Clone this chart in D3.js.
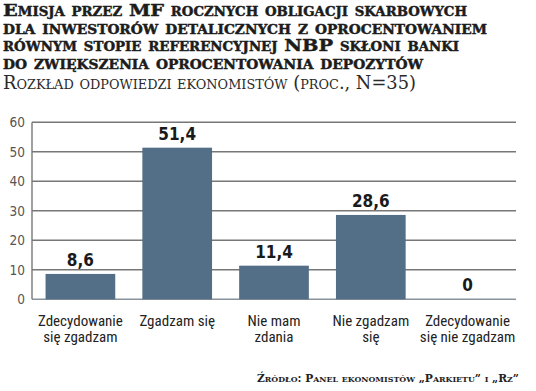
<!DOCTYPE html>
<html>
<head>
<meta charset="utf-8">
<script src="https://cdn.jsdelivr.net/npm/d3@7"></script>
<style>
  body { margin: 0; background: #fff; }
  svg { display: block; }
</style>
</head>
<body>
<div class="elementForBarGraph"></div>
<script>

var titleLines = [
	"Emisja przez MF rocznych obligacji skarbowych",
	"dla inwestorów detalicznych z oprocentowaniem",
	"równym stopie referencyjnej NBP skłoni banki",
	"do zwiększenia oprocentowania depozytów"
];
var subtitle = "Rozkład odpowiedzi ekonomistów (proc., N=35)";
var source = "Źródło: Panel ekonomistów „Parkietu” i „Rz”";

var categories = [
	["Zdecydowanie", "się zgadzam"],
	["Zgadzam się"],
	["Nie mam", "zdania"],
	["Nie zgadzam", "się"],
	["Zdecydowanie", "się nie zgadzam"]
];
var values = [8.6, 51.4, 11.4, 28.6, 0];
var yTicks = [0, 10, 20, 30, 40, 50, 60];

var width = 536, height = 391;
var plot = {left: 32, right: 516, top: 122.3, bottom: 299.3};

var pl = d3.formatLocale({decimal: ",", thousands: " ", grouping: [3], currency: ["", " zł"]});
var fmt = pl.format(".1~f");

var svg = d3.select(".elementForBarGraph")
	.append("svg")
	.attr("width", width)
	.attr("height", height);

// title block
var serif = "'DejaVu Serif', serif";
var titleEnds = [467, 487, 459, 423];
var titleBase = [16, 33.5, 51, 68.5];

svg.selectAll("text.title")
	.data(titleLines)
	.enter()
	.append("text")
		.attr("class", "title")
		.attr("x", 3)
		.attr("y", function(d,i){ return titleBase[i]; })
		.attr("textLength", function(d,i){ return titleEnds[i] - 3; })
		.attr("lengthAdjust", "spacingAndGlyphs")
		.style("font-family", serif)
		.style("font-weight", "bold")
		.style("font-variant", "small-caps")
		.style("font-size", "17.5px")
		.attr("fill", "#1c1c1c")
		.attr("stroke", "#1c1c1c")
		.attr("stroke-width", 0.45)
		.text(function(d){ return d; });

svg.append("text")
	.attr("x", 3)
	.attr("y", 89)
	.attr("textLength", 413)
	.attr("lengthAdjust", "spacingAndGlyphs")
	.style("font-family", serif)
	.style("font-variant", "small-caps")
	.style("font-size", "18px")
	.attr("fill", "#2a2a2a")
	.text(subtitle);

// scales
var x = d3.scaleBand()
	.domain(d3.range(values.length))
	.range([plot.left, plot.right])
	.paddingInner(0.28)
	.paddingOuter(0.14);

var y = d3.scaleLinear()
	.domain([0, 60])
	.range([plot.bottom, plot.top]);

var g = svg.append("g");

// gridlines
g.selectAll("line.grid")
	.data(yTicks)
	.enter()
	.append("line")
		.attr("x1", plot.left)
		.attr("x2", plot.right)
		.attr("y1", function(d){ return y(d); })
		.attr("y2", function(d){ return y(d); })
		.attr("stroke", function(d){ return d === 0 ? "#8a939b" : "#777"; })
		.attr("stroke-width", 1.4);

g.append("line")
	.attr("x1", plot.left)
	.attr("x2", plot.left)
	.attr("y1", y(60))
	.attr("y2", y(0))
	.attr("stroke", "#777")
	.attr("stroke-width", 1.4);

// y tick labels
var sansC = "'DejaVu Sans Condensed', 'DejaVu Sans', sans-serif";
g.selectAll("text.ytick")
	.data(yTicks)
	.enter()
	.append("text")
		.attr("x", 25)
		.attr("y", function(d){ return y(d); })
		.attr("dy", "0.36em")
		.attr("text-anchor", "end")
		.style("font-family", sansC)
		.style("font-stretch", "condensed")
		.style("font-size", "13.5px")
		.attr("fill", "#555")
		.text(function(d){ return d; });

// bars
g.selectAll("rect.bar")
	.data(values)
	.enter()
	.append("rect")
		.attr("class", "bar")
		.attr("x", function(d,i){ return x(i); })
		.attr("width", x.bandwidth())
		.attr("y", function(d){ return y(d); })
		.attr("height", function(d){ return y(0) - y(d); })
		.attr("fill", "#536f87");

// value labels
g.selectAll("text.val")
	.data(values)
	.enter()
	.append("text")
		.attr("x", function(d,i){ return x(i) + x.bandwidth()/2; })
		.attr("y", function(d){ return y(d) - 8; })
		.attr("text-anchor", "middle")
		.style("font-family", sansC)
		.style("font-stretch", "condensed")
		.style("font-weight", "bold")
		.style("font-size", "17px")
		.attr("fill", "#1a1a1a")
		.text(function(d){ return fmt(d); });

// category labels, one text per line
var catLines = [];
categories.forEach(function(c, i){
	c.forEach(function(t, j){ catLines.push({t: t, i: i, j: j}); });
});

g.selectAll("text.cat")
	.data(catLines)
	.enter()
	.append("text")
		.attr("class", "cat")
		.attr("x", function(d){ return x(d.i) + x.bandwidth()/2; })
		.attr("y", function(d){ return 326 + d.j*16; })
		.attr("text-anchor", "middle")
		.style("font-family", "'Roboto Condensed', 'Roboto', sans-serif")
		.style("font-stretch", "condensed")
		.style("font-size", "15px")
		.attr("fill", "#222")
		.text(function(d){ return d.t; });

// source - shrink the font until it fits between 257 and 519
var src = svg.append("text")
	.attr("x", 257)
	.attr("y", 382)
	.style("font-family", serif)
	.style("font-weight", "bold")
	.style("font-variant", "small-caps")
	.style("font-size", "12.5px")
	.attr("fill", "#222")
	.text(source);

var srcW = src.node().getComputedTextLength();
if (srcW > 262) {
	src.style("font-size", (12.5 * 262 / srcW) + "px");
}
src.attr("textLength", 262).attr("lengthAdjust", "spacingAndGlyphs");

</script>
</body>
</html>
